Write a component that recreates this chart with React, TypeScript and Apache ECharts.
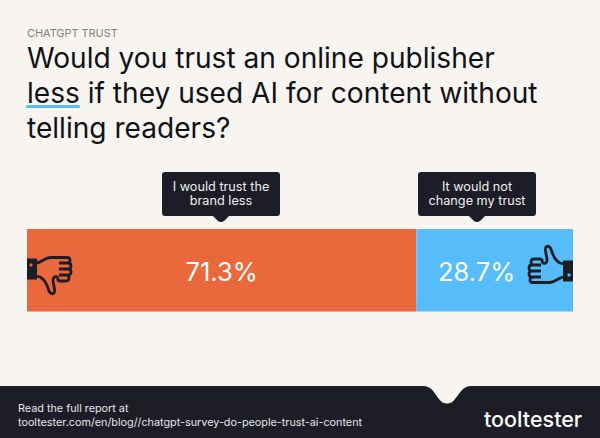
import React, { useEffect, useRef } from "react";
import * as echarts from "echarts";

const categories = ["Trust"];
const lessValues = [71.3];
const sameValues = [28.7];
const seriesNames = ["I would trust the\nbrand less", "It would not\nchange my trust"];
const kicker = "CHATGPT TRUST";
const question = "Would you trust an online publisher\nless if they used AI for content without\ntelling readers?";
const footerLines = "Read the full report at\ntooltester.com/en/blog//chatgpt-survey-do-people-trust-ai-content";
const brand = "tooltester";

const FONT = "Inter";
const INK = "#1c1d27";
const PAPER = "#f8f5f0";
const ORANGE = "#e9683c";
const BLUE = "#56bcfa";

echarts.graphic.registerShape(
  "footerBand",
  echarts.graphic.extendPath(
    "M0 386 L423 386 C432 386 434 393 439 399 C443 405 451 405 455 399 C460 393 463 386 471 386 L600 386 L600 438 L0 438 Z",
    {}
  )
);
echarts.graphic.registerShape(
  "calloutBox",
  echarts.graphic.extendPath(
    "M3 0 L115 0 Q118 0 118 3 L118 41 Q118 44 115 44 L67 44 L62 49 Q59 51 56 49 L51 44 L3 44 Q0 44 0 41 L0 3 Q0 0 3 0 Z",
    {}
  )
);
echarts.graphic.registerShape(
  "thumbHand",
  echarts.graphic.extendPath(
    "M9 7 C14 7 17 2 23 1.5 L33 1.5 M9 20 L13 21 C17 23 19 26 21 32 C22 37 25 39 27 37 C29 35 26 28 26 24 C26 21 28 20 31 21 M31 1.5 L40 1.5 Q43 1.5 43 4 Q43 7 40 7 L32 7 M32 7 L41 7 Q44 7 44 10 Q44 13 41 13 L32 13 M32 13 L41 13 Q44 13 44 16 Q44 19 41 19 L32 19 M32 19 L39 19 Q42 19 42 22 Q42 25 39 25 L33 25 Q30 25 31 21",
    {}
  )
);
echarts.graphic.registerShape(
  "thumbCuff",
  echarts.graphic.extendPath("M0 2.5 L10 2.5 L10 23.5 L0 23.5 Z", {})
);

function thumb(x: number, y: number, flip: number, dot: string) {
  return {
    type: "group",
    x,
    y,
    scaleX: flip,
    scaleY: flip,
    children: [
      { type: "thumbHand", z: 10, style: { fill: "none", stroke: INK, lineWidth: 2.8 } },
      { type: "thumbCuff", z: 10, style: { fill: INK } },
      { type: "circle", z: 11, shape: { cx: 4, cy: 9, r: 1.6 }, style: { fill: dot } },
    ],
  };
}

function callout(x: number, label: string) {
  return {
    type: "group",
    x,
    y: 172,
    children: [
      { type: "calloutBox", z: 10, style: { fill: INK } },
      {
        type: "text",
        z: 11,
        x: 59,
        y: 21,
        style: {
          text: label,
          font: `400 12.7px ${FONT}`,
          fill: "#eeeeec",
          lineHeight: 14,
          align: "center",
          verticalAlign: "middle",
        },
      },
    ],
  };
}

export default function App() {
  const ref = useRef<HTMLDivElement>(null);
  useEffect(() => {
    document.body.style.margin = "0";
    const chart = echarts.init(ref.current!, undefined, { renderer: "svg" });
    const barLabel = {
      show: true,
      position: "inside" as const,
      formatter: "{c}%",
      color: "#ffffff",
      fontFamily: FONT,
      fontSize: 25.5,
      fontWeight: 400,
    };
    chart.setOption({
      animation: false,
      backgroundColor: PAPER,
      title: [
        {
          text: kicker,
          left: 27,
          top: 27,
          padding: 0,
          textStyle: { fontFamily: FONT, fontSize: 10.9, fontWeight: 400, color: "#83817e" },
        },
        {
          text: question,
          left: 27,
          top: 40,
          padding: 0,
          textStyle: { fontFamily: FONT, fontSize: 28.1, fontWeight: 400, lineHeight: 35, color: "#111118" },
        },
      ],
      grid: { left: 27, right: 27, top: 229, height: 82.5 },
      xAxis: { type: "value", min: 0, max: 100, show: false },
      yAxis: { type: "category", data: categories, show: false },
      series: [
        {
          type: "bar",
          name: seriesNames[0],
          stack: "total",
          data: lessValues,
          barWidth: "100%",
          itemStyle: { color: ORANGE },
          label: { ...barLabel, offset: [0, 1] },
        },
        {
          type: "bar",
          name: seriesNames[1],
          stack: "total",
          data: sameValues,
          barWidth: "100%",
          itemStyle: { color: BLUE },
          label: { ...barLabel, offset: [-18, 1] },
        },
      ],
      graphic: [
        { type: "rect", z: 10, shape: { x: 26, y: 105, width: 54, height: 3, r: 1.5 }, style: { fill: BLUE } },
        callout(162, seriesNames[0]),
        callout(418, seriesNames[1]),
        thumb(27, 256, 1, ORANGE),
        thumb(573, 284, -1, BLUE),
        { type: "footerBand", z: 10, style: { fill: INK } },
        {
          type: "text",
          z: 11,
          x: 18,
          y: 415.5,
          style: {
            text: footerLines,
            font: `400 10.8px ${FONT}`,
            fill: "#e6e5e2",
            lineHeight: 14.5,
            verticalAlign: "middle",
          },
        },
        {
          type: "text",
          z: 11,
          x: 484,
          y: 419,
          style: {
            text: brand,
            font: `500 21.5px ${FONT}`,
            fill: "#ffffff",
            verticalAlign: "middle",
          },
        },
      ],
    });
    return () => chart.dispose();
  }, []);
  return <div ref={ref} style={{ width: 600, height: 438 }} />;
}
